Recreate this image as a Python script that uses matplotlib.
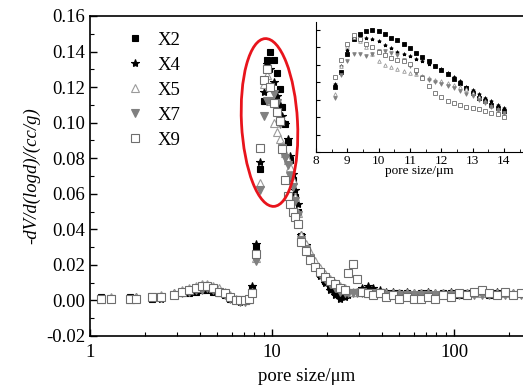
import numpy as np
import matplotlib
matplotlib.use("Agg")
import matplotlib.pyplot as plt
from matplotlib.patches import Ellipse
from matplotlib.ticker import MultipleLocator, LogLocator, NullFormatter, FixedLocator

plt.rcParams['font.family'] = ['Liberation Serif', 'DejaVu Serif']

# low pore-size region (main plot)
low_x = [1.15, 1.3, 1.65, 1.8, 2.2, 2.45, 2.9, 3.2, 3.5, 3.8, 4.1, 4.4, 4.75,
         5.1, 5.5, 5.9, 6.3, 6.7, 7.1, 7.5, 7.8, 8.2]
low_x2 = [0.002, 0.001, 0.002, 0.001, 0.001, 0.002, 0.003, 0.004, 0.004, 0.005, 0.006,
          0.006, 0.005, 0.004, 0.003, 0.001, 0.000, 0.000, 0.000, 0.001, 0.007, 0.030]
low_x4 = [0.001, 0.001, 0.001, 0.002, 0.002, 0.001, 0.004, 0.004, 0.005, 0.006, 0.006,
          0.006, 0.005, 0.004, 0.003, 0.001, 0.000, -0.001, 0.000, 0.002, 0.008, 0.032]
low_x5 = [0.001, 0.002, 0.001, 0.002, 0.002, 0.003, 0.004, 0.006, 0.007, 0.008, 0.009,
          0.009, 0.008, 0.007, 0.005, 0.003, 0.001, 0.000, 0.000, 0.001, 0.005, 0.024]
low_x7 = [0.001, 0.001, 0.001, 0.001, 0.002, 0.002, 0.003, 0.004, 0.005, 0.006, 0.006,
          0.007, 0.006, 0.005, 0.003, 0.001, 0.000, -0.001, -0.001, 0.000, 0.004, 0.022]
low_x9 = [0.001, 0.001, 0.001, 0.001, 0.002, 0.002, 0.003, 0.005, 0.006, 0.007, 0.008,
          0.008, 0.007, 0.005, 0.004, 0.002, 0.000, 0.000, 0.000, 0.001, 0.004, 0.026]

# peak region (linear scale)
pk_x = [8.6, 8.8, 9.0, 9.2, 9.4, 9.6, 9.8, 10.0, 10.2, 10.4, 10.6, 10.8, 11.0, 11.2,
        11.4, 11.6, 11.8, 12.0, 12.2, 12.4, 12.6, 12.8, 13.0, 13.2, 13.4, 13.6, 13.8, 14.0]
pk_x2 = [0.074, 0.092, 0.112, 0.129, 0.135, 0.139, 0.140, 0.139, 0.135, 0.131, 0.128, 0.124,
         0.119, 0.114, 0.109, 0.104, 0.099, 0.094, 0.089, 0.084, 0.079, 0.073, 0.068, 0.062,
         0.058, 0.054, 0.050, 0.047]
pk_x4 = [0.078, 0.098, 0.117, 0.129, 0.133, 0.131, 0.130, 0.127, 0.123, 0.119, 0.115, 0.112,
         0.110, 0.107, 0.104, 0.101, 0.099, 0.095, 0.091, 0.086, 0.081, 0.075, 0.071, 0.067,
         0.062, 0.058, 0.054, 0.050]
pk_x5 = [0.066, 0.098, 0.122, 0.132, 0.127, 0.120, 0.112, 0.104, 0.100, 0.097, 0.095, 0.093,
         0.091, 0.089, 0.087, 0.085, 0.083, 0.081, 0.079, 0.077, 0.075, 0.072, 0.068, 0.063,
         0.058, 0.053, 0.049, 0.045]
pk_x7 = [0.062, 0.088, 0.104, 0.112, 0.112, 0.110, 0.112, 0.116, 0.116, 0.114, 0.111, 0.106,
         0.099, 0.091, 0.086, 0.083, 0.080, 0.078, 0.076, 0.073, 0.070, 0.067, 0.064, 0.060,
         0.056, 0.052, 0.048, 0.045]
pk_x9 = [0.086, 0.105, 0.124, 0.134, 0.130, 0.124, 0.120, 0.115, 0.111, 0.108, 0.106, 0.104,
         0.101, 0.094, 0.085, 0.076, 0.068, 0.063, 0.059, 0.056, 0.054, 0.052, 0.050, 0.049,
         0.047, 0.045, 0.043, 0.040]

# large pore tail (main plot)
tail_x = [14.5, 15.3, 16.2, 17.2, 18.3, 19.5, 20.8, 22.2, 23.7, 25.0, 26.2, 27.7, 29.3, 31,
          33.5, 36, 39, 42.5, 46, 50, 55, 60, 66, 72, 79, 87, 96, 106, 117, 129, 142, 156,
          172, 190, 210, 232]
tail_x2 = [0.036, 0.030, 0.024, 0.019, 0.015, 0.011, 0.008, 0.005, 0.003, 0.003, 0.004, 0.004,
           0.005, 0.006, 0.006, 0.005, 0.005, 0.004, 0.004, 0.004, 0.004, 0.003, 0.004, 0.004,
           0.003, 0.004, 0.004, 0.003, 0.004, 0.004, 0.004, 0.003, 0.004, 0.004, 0.003, 0.004]
tail_x4 = [0.037, 0.031, 0.025, 0.019, 0.014, 0.010, 0.006, 0.003, 0.001, 0.002, 0.003, 0.004,
           0.005, 0.007, 0.008, 0.007, 0.006, 0.005, 0.005, 0.004, 0.005, 0.004, 0.004, 0.005,
           0.004, 0.004, 0.005, 0.004, 0.004, 0.005, 0.004, 0.004, 0.005, 0.004, 0.004, 0.004]
tail_x5 = [0.037, 0.032, 0.027, 0.022, 0.018, 0.015, 0.012, 0.010, 0.008, 0.007, 0.006, 0.005,
           0.005, 0.005, 0.004, 0.004, 0.004, 0.004, 0.004, 0.004, 0.004, 0.004, 0.004, 0.004,
           0.004, 0.004, 0.004, 0.004, 0.004, 0.004, 0.004, 0.004, 0.004, 0.004, 0.004, 0.004]
tail_x7 = [0.034, 0.029, 0.024, 0.019, 0.015, 0.012, 0.009, 0.007, 0.005, 0.004, 0.004, 0.004,
           0.004, 0.004, 0.004, 0.004, 0.004, 0.003, 0.003, 0.003, 0.003, 0.003, 0.003, 0.003,
           0.003, 0.003, 0.003, 0.003, 0.003, 0.003, 0.003, 0.003, 0.003, 0.003, 0.003, 0.003]
tail_x9 = [0.033, 0.028, 0.023, 0.019, 0.016, 0.013, 0.011, 0.009, 0.007, 0.006, 0.0155, 0.0205,
           0.012, 0.005, 0.004, 0.003, 0.004, 0.002, 0.003, 0.001, 0.002, 0.001, 0.001, 0.002,
           0.001, 0.003, 0.002, 0.004, 0.003, 0.005, 0.006, 0.004, 0.003, 0.005, 0.003, 0.004]

labels = ["X2", "X4", "X5", "X7", "X9"]
low_y = [low_x2, low_x4, low_x5, low_x7, low_x9]
pk_y = [pk_x2, pk_x4, pk_x5, pk_x7, pk_x9]
tail_y = [tail_x2, tail_x4, tail_x5, tail_x7, tail_x9]

styles = [
    dict(marker="s", ms=5, mfc="black", mec="black"),
    dict(marker="*", ms=6, mfc="black", mec="black"),
    dict(marker="^", ms=5.5, mfc="white", mec="#9a9a9a"),
    dict(marker="v", ms=5.5, mfc="#808080", mec="#808080"),
    dict(marker="s", ms=5.5, mfc="white", mec="#6e6e6e"),
]

fig = plt.figure(figsize=(5.23, 3.92), dpi=100)
ax = fig.add_axes([90 / 523, 56 / 392, 433 / 523, 320 / 392])

for lab, ly, py, ty, st in zip(labels, low_y, pk_y, tail_y, styles):
    xs = low_x + pk_x[::2] + tail_x
    ys = ly + py[::2] + ty
    ax.plot(xs, ys, ls="none", mew=0.8, label=lab, **st)

ax.set_xscale("log")
ax.set_xlim(1, 239)
ax.set_ylim(-0.02, 0.16)
ax.yaxis.set_major_locator(MultipleLocator(0.02))
ax.yaxis.set_minor_locator(MultipleLocator(0.01))
ax.yaxis.set_major_formatter(plt.FuncFormatter(lambda v, p: f"{v:.2f}"))
ax.xaxis.set_major_locator(FixedLocator([1, 10, 100]))
ax.xaxis.set_major_formatter(plt.FuncFormatter(lambda v, p: f"{v:g}"))
ax.xaxis.set_minor_locator(LogLocator(base=10, subs=np.arange(2, 10)))
ax.xaxis.set_minor_formatter(NullFormatter())
ax.tick_params(which="both", direction="in", labelsize=13.5)
ax.tick_params(which="major", length=5, width=1)
ax.tick_params(which="minor", length=3, width=0.8)
ax.tick_params(axis="x", pad=6)
ax.spines["right"].set_visible(False)
for s in ["left", "bottom", "top"]:
    ax.spines[s].set_linewidth(1.2)

ax.set_xlabel("pore size/μm", fontsize=13.5, labelpad=5)
ax.set_ylabel("-dV/d(logd)/(cc/g)", fontsize=13.5, style="italic", labelpad=4)

ax.legend(loc="upper left", bbox_to_anchor=(0.06, 0.975), frameon=False, fontsize=13.5,
          handletextpad=0.6, labelspacing=0.42, borderaxespad=0, handlelength=1.2)

# red ellipse around the peak
ell = Ellipse((2.695, 2.695), 0.56, 1.68, angle=3, transform=fig.dpi_scale_trans,
              fill=False, ec="#e8141c", lw=2)
fig.patches.append(ell)

# inset
axi = fig.add_axes([316 / 523, 240 / 392, 207 / 523, 130 / 392])
for py, st in zip(pk_y, styles):
    axi.plot(pk_x, py, ls="none", marker=st["marker"], ms=2.6, mfc=st["mfc"],
             mec=st["mec"], mew=0.6)
axi.set_xlim(8, 14.61)
axi.set_ylim(0, 0.149)
axi.xaxis.set_major_locator(MultipleLocator(1))
axi.xaxis.set_minor_locator(MultipleLocator(0.5))
axi.yaxis.set_major_locator(MultipleLocator(0.02))
axi.yaxis.set_major_formatter(NullFormatter())
axi.spines["right"].set_visible(False)
axi.spines["top"].set_visible(False)
axi.tick_params(which="both", direction="in", labelsize=9.5, pad=2)
axi.tick_params(which="major", length=3)
axi.tick_params(which="minor", length=2)
axi.set_xlabel("pore size/μm", fontsize=9.5, labelpad=-1)

fig.savefig("out.png", dpi=100)
